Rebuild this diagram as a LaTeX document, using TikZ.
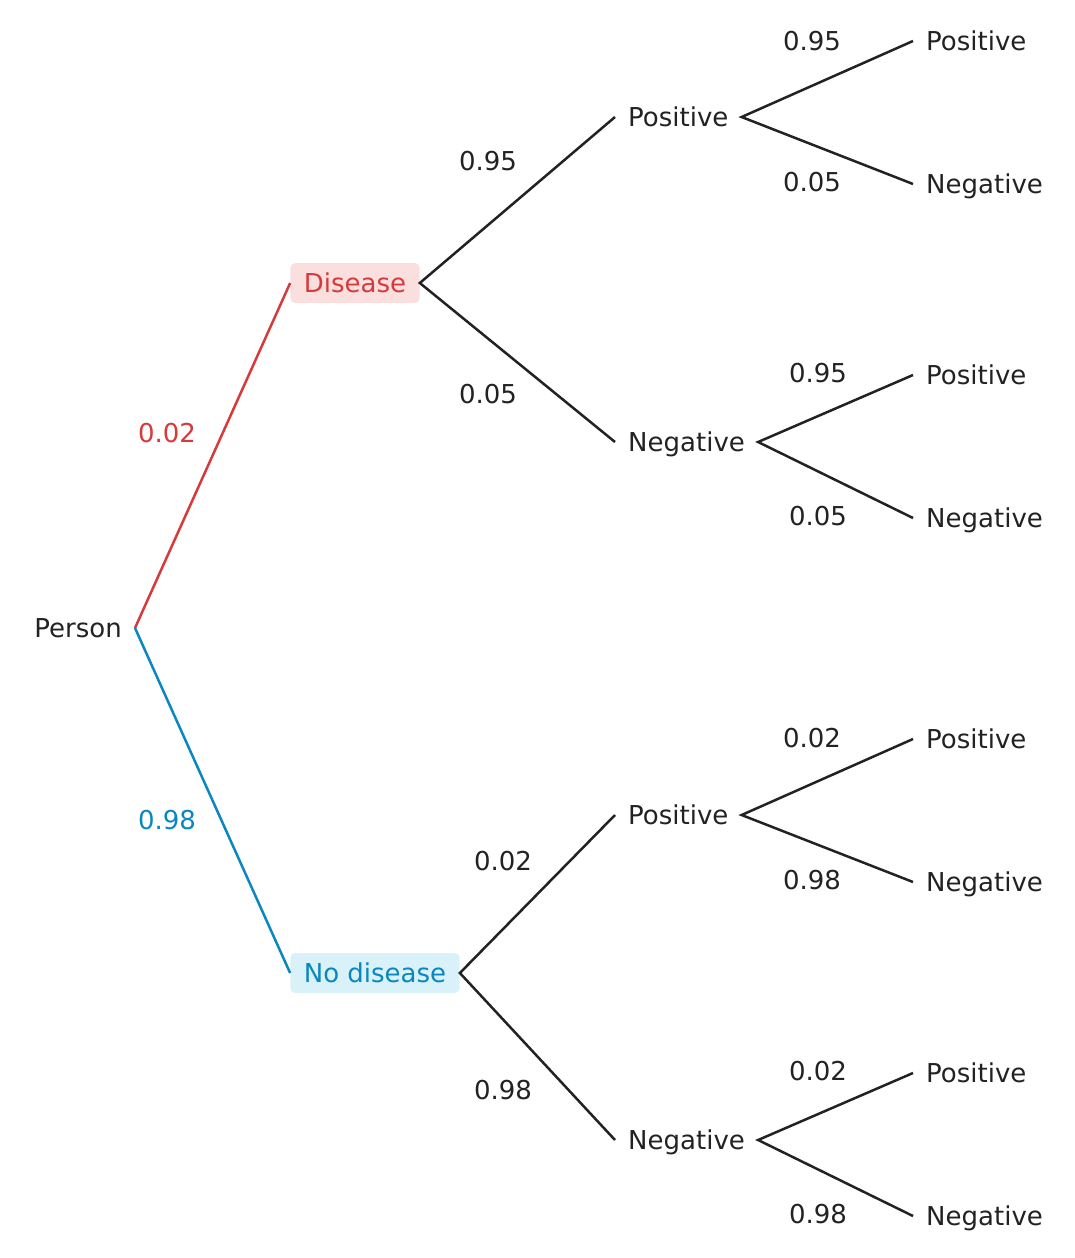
\documentclass[tikz,border=0pt]{standalone}
\usepackage{fontspec}
\setmainfont{DejaVu Sans}
\definecolor{ink}{HTML}{222222}
\definecolor{dred}{HTML}{D63A3A}
\definecolor{dredfill}{HTML}{FBDFDF}
\definecolor{dblue}{HTML}{0A87BE}
\definecolor{dbluefill}{HTML}{D9F1F8}
\begin{document}
\begin{tikzpicture}[x=1pt,y=-1pt,
  every node/.style={font=\fontsize{26}{30}\selectfont, text=ink, text height=22pt, text depth=4pt, inner ysep=0pt},
  lbl/.style={inner sep=0pt},
  mid/.style={anchor=west, inner xsep=13pt},
  leaf/.style={anchor=west, inner xsep=13pt},
  catbox/.style={rounded corners=5pt, inner xsep=13.5pt, minimum height=40pt},
  edge/.style={draw=ink, line width=2.5pt},
]
\useasboundingbox (0,0) rectangle (1075,1258);

% root
\node[anchor=east, inner xsep=13pt] (person) at (135,628) {Person};

% first level
\node[catbox, fill=dredfill, text=dred] (dis) at (355,283) {Disease};
\node[catbox, fill=dbluefill, text=dblue] (nodis) at (375,973) {No disease};

% second level
\node[mid] (dp) at (615,117) {Positive};
\node[mid] (dn) at (615,442) {Negative};
\node[mid] (np) at (615,815) {Positive};
\node[mid] (nn) at (615,1140) {Negative};

% leaves
\node[leaf] (dpp) at (913,41) {Positive};
\node[leaf] (dpn) at (913,184) {Negative};
\node[leaf] (dnp) at (913,375) {Positive};
\node[leaf] (dnn) at (913,518) {Negative};
\node[leaf] (npp) at (913,739) {Positive};
\node[leaf] (npn) at (913,882) {Negative};
\node[leaf] (nnp) at (913,1073) {Positive};
\node[leaf] (nnn) at (913,1216) {Negative};

% connectors
\draw[draw=dred, line width=2.5pt] (person.east) -- (dis.west);
\draw[draw=dblue, line width=2.5pt] (person.east) -- (nodis.west);
\draw[edge] (dp.west) -- (dis.east) -- (dn.west);
\draw[edge] (np.west) -- (nodis.east) -- (nn.west);
\draw[edge] (dpp.west) -- (dp.east) -- (dpn.west);
\draw[edge] (dnp.west) -- (dn.east) -- (dnn.west);
\draw[edge] (npp.west) -- (np.east) -- (npn.west);
\draw[edge] (nnp.west) -- (nn.east) -- (nnn.west);

% probabilities
\node[lbl, text=dred] (l1) at (167,433) {0.02};
\node[lbl, text=dblue] (l2) at (167,820) {0.98};
\node[lbl] (l3) at (488,161) {0.95};
\node[lbl] (l4) at (488,394) {0.05};
\node[lbl] (l5) at (503,861) {0.02};
\node[lbl] (l6) at (503,1090) {0.98};
\node[lbl] (l7) at (812,41) {0.95};
\node[lbl] (l8) at (812,182) {0.05};
\node[lbl] (l9) at (818,373) {0.95};
\node[lbl] (l10) at (818,516) {0.05};
\node[lbl] (l11) at (812,738) {0.02};
\node[lbl] (l12) at (812,880) {0.98};
\node[lbl] (l13) at (818,1071) {0.02};
\node[lbl] (l14) at (818,1214) {0.98};
\end{tikzpicture}
\end{document}
